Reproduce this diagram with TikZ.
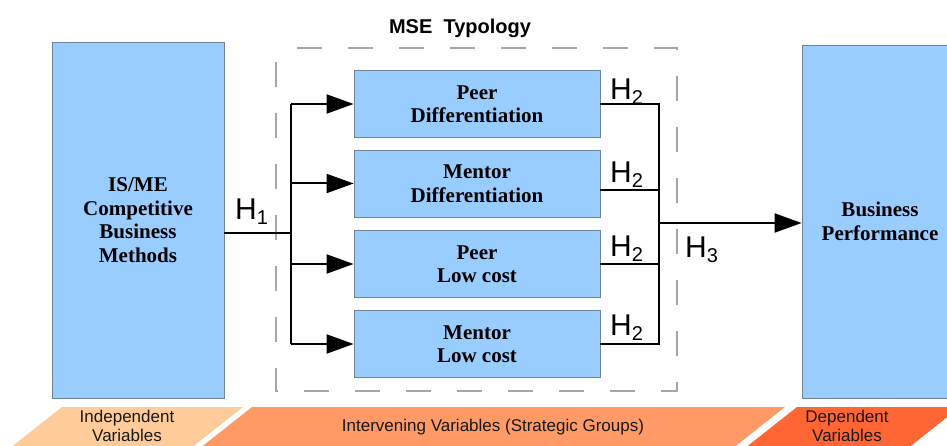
\documentclass[tikz,border=0pt]{standalone}
\usepackage{fontspec}
\setmainfont{Liberation Serif}
\setsansfont{Liberation Sans}
\usetikzlibrary{arrows.meta,positioning}
\definecolor{boxblue}{HTML}{99CCFF}
\definecolor{boxedge}{HTML}{6F8296}
\definecolor{bandlight}{HTML}{FFCC99}
\definecolor{bandmid}{HTML}{FF9966}
\definecolor{banddark}{HTML}{FF6633}
\newcommand{\hyp}[1]{H\raisebox{-5pt}{\fontsize{20}{20}\selectfont #1}}

\begin{document}
\begin{tikzpicture}[x=1pt, y=-1pt, box/.style={draw=boxedge, fill=boxblue, line width=0.8pt, inner sep=0pt, align=center, font=\fontsize{21}{23.5}\selectfont\bfseries}, grp/.style={box, minimum width=246pt, minimum height=67pt}, arr/.style={-{Triangle[length=27pt, width=19pt]}, line width=2pt}, link/.style={line width=2pt}, hlab/.style={font=\fontsize{30}{30}\sffamily, inner sep=0pt}, band/.style={font=\fontsize{17}{19}\sffamily, align=center, text=black!90}]
\useasboundingbox (0,0) rectangle (947,446);
\clip (0,0) rectangle (947,446);

% bottom bands
\fill[bandlight] (62,407) -- (243,407) -- (181,456) -- (0,456) -- cycle;
\fill[bandmid] (252,407) -- (785,407) -- (723,456) -- (190,456) -- cycle;
\fill[banddark] (797,407) -- (960,407) -- (898,456) -- (735,456) -- cycle;
\node[band] (indep) at (127,426) {Independent\\Variables};
\node[band] (interv) at (493,427) {Intervening Variables (Strategic Groups)};
\node[band] (dep) at (847,426) {Dependent\\Variables};

% strategic groups frame
\draw[black!35, line width=1.2pt, dash pattern=on 25pt off 26pt, dash phase=37pt] (276,48) rectangle (677,391);
\node[font=\fontsize{20}{24}\sffamily\bfseries] (mse) at (460,28) {MSE\ \ Typology};

\node[box, minimum width=172pt, minimum height=356pt] (isme) at (138,220) {IS/ME\\Competitive\\Business\\Methods};
\node[box, minimum width=156pt, minimum height=353pt] (perf) at (880,221.5) {Business\\Performance};

\node[grp] (peerdiff) at (477,104) {Peer\\Differentiation};
\node[grp] (mentdiff) at (477,183.5) {Mentor\\Differentiation};
\node[grp] (peerlow) at (477,264) {Peer\\Low cost};
\node[grp] (mentlow) at (477,344) {Mentor\\Low cost};

\coordinate (fork) at (291,233);
\coordinate (join) at (659,223);

\draw[link] (isme.east |- fork) -- (fork);
\draw[link] (fork |- peerdiff) -- (fork |- mentlow);
\foreach \g in {peerdiff,mentdiff,peerlow,mentlow}
  \draw[arr] (fork |- \g.west) -- (\g.west);

\draw[link] (peerdiff.east) -- (peerdiff.east -| join) -- (mentlow.east -| join) -- (mentlow.east);
\draw[link] ([yshift=-6.5pt]mentdiff.east) -- ([yshift=-6.5pt]mentdiff.east -| join);
\draw[link] (peerlow.east) -- (peerlow.east -| join);
\draw[arr] (join) -- (join -| perf.west);

\node[hlab, anchor=base west] (h1) at (235,220) {\hyp{1}};
\node[hlab, anchor=base west] (h2a) at (610,100) {\hyp{2}};
\node[hlab, anchor=base west] (h2b) at (610,183) {\hyp{2}};
\node[hlab, anchor=base west] (h2c) at (610,257) {\hyp{2}};
\node[hlab, anchor=base west] (h2d) at (610,335) {\hyp{2}};
\node[hlab, anchor=base west] (h3) at (685,258) {\hyp{3}};
\end{tikzpicture}
\end{document}
